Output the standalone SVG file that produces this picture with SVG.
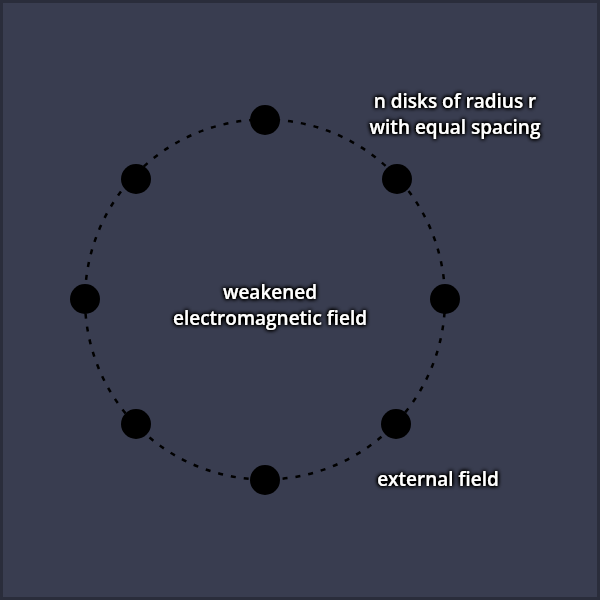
<svg xmlns="http://www.w3.org/2000/svg" width="600" height="600" viewBox="0 0 600 600">
<defs>
<style>
.lbl{font-family:"Open Sans","Noto Sans","DejaVu Sans",sans-serif;font-size:19px;font-weight:600;fill:#ffffff;text-anchor:middle;filter:url(#glow)}
.disk{fill:#000000}
.ring{fill:none;stroke:#000000;stroke-width:2.5;stroke-dasharray:5 8}
</style>
<filter id="glow" x="-20%" y="-50%" width="140%" height="200%">
<feGaussianBlur in="SourceAlpha" stdDeviation="2.2" result="b"/>
<feComponentTransfer in="b" result="b2"><feFuncA type="linear" slope="3"/></feComponentTransfer>
<feMerge><feMergeNode in="b2"/><feMergeNode in="SourceGraphic"/></feMerge>
</filter>
</defs>
<rect x="0" y="0" width="600" height="600" fill="#393d50"/>
<rect x="1.5" y="1.5" width="597" height="597" fill="none" stroke="#2a2d3b" stroke-width="3"/>
<g id="connectors">
<circle class="ring" cx="265" cy="299.5" r="180"/>
</g>
<g id="disk-top"><circle class="disk" cx="265" cy="120" r="15"/></g>
<g id="disk-top-right"><circle class="disk" cx="397" cy="179" r="15"/></g>
<g id="disk-right"><circle class="disk" cx="445" cy="299" r="15"/></g>
<g id="disk-bottom-right"><circle class="disk" cx="396" cy="424" r="15"/></g>
<g id="disk-bottom"><circle class="disk" cx="265" cy="480" r="15"/></g>
<g id="disk-bottom-left"><circle class="disk" cx="136" cy="424" r="15"/></g>
<g id="disk-left"><circle class="disk" cx="85" cy="299" r="15"/></g>
<g id="disk-top-left"><circle class="disk" cx="136" cy="179" r="15"/></g>
<g id="label-disks">
<text class="lbl" x="455" y="108">n disks of radius r</text>
<text class="lbl" x="455" y="134">with equal spacing</text>
</g>
<g id="label-weakened">
<text class="lbl" x="270" y="299">weakened</text>
<text class="lbl" x="270" y="325">electromagnetic field</text>
</g>
<g id="label-external">
<text class="lbl" x="438" y="486">external field</text>
</g>
</svg>
